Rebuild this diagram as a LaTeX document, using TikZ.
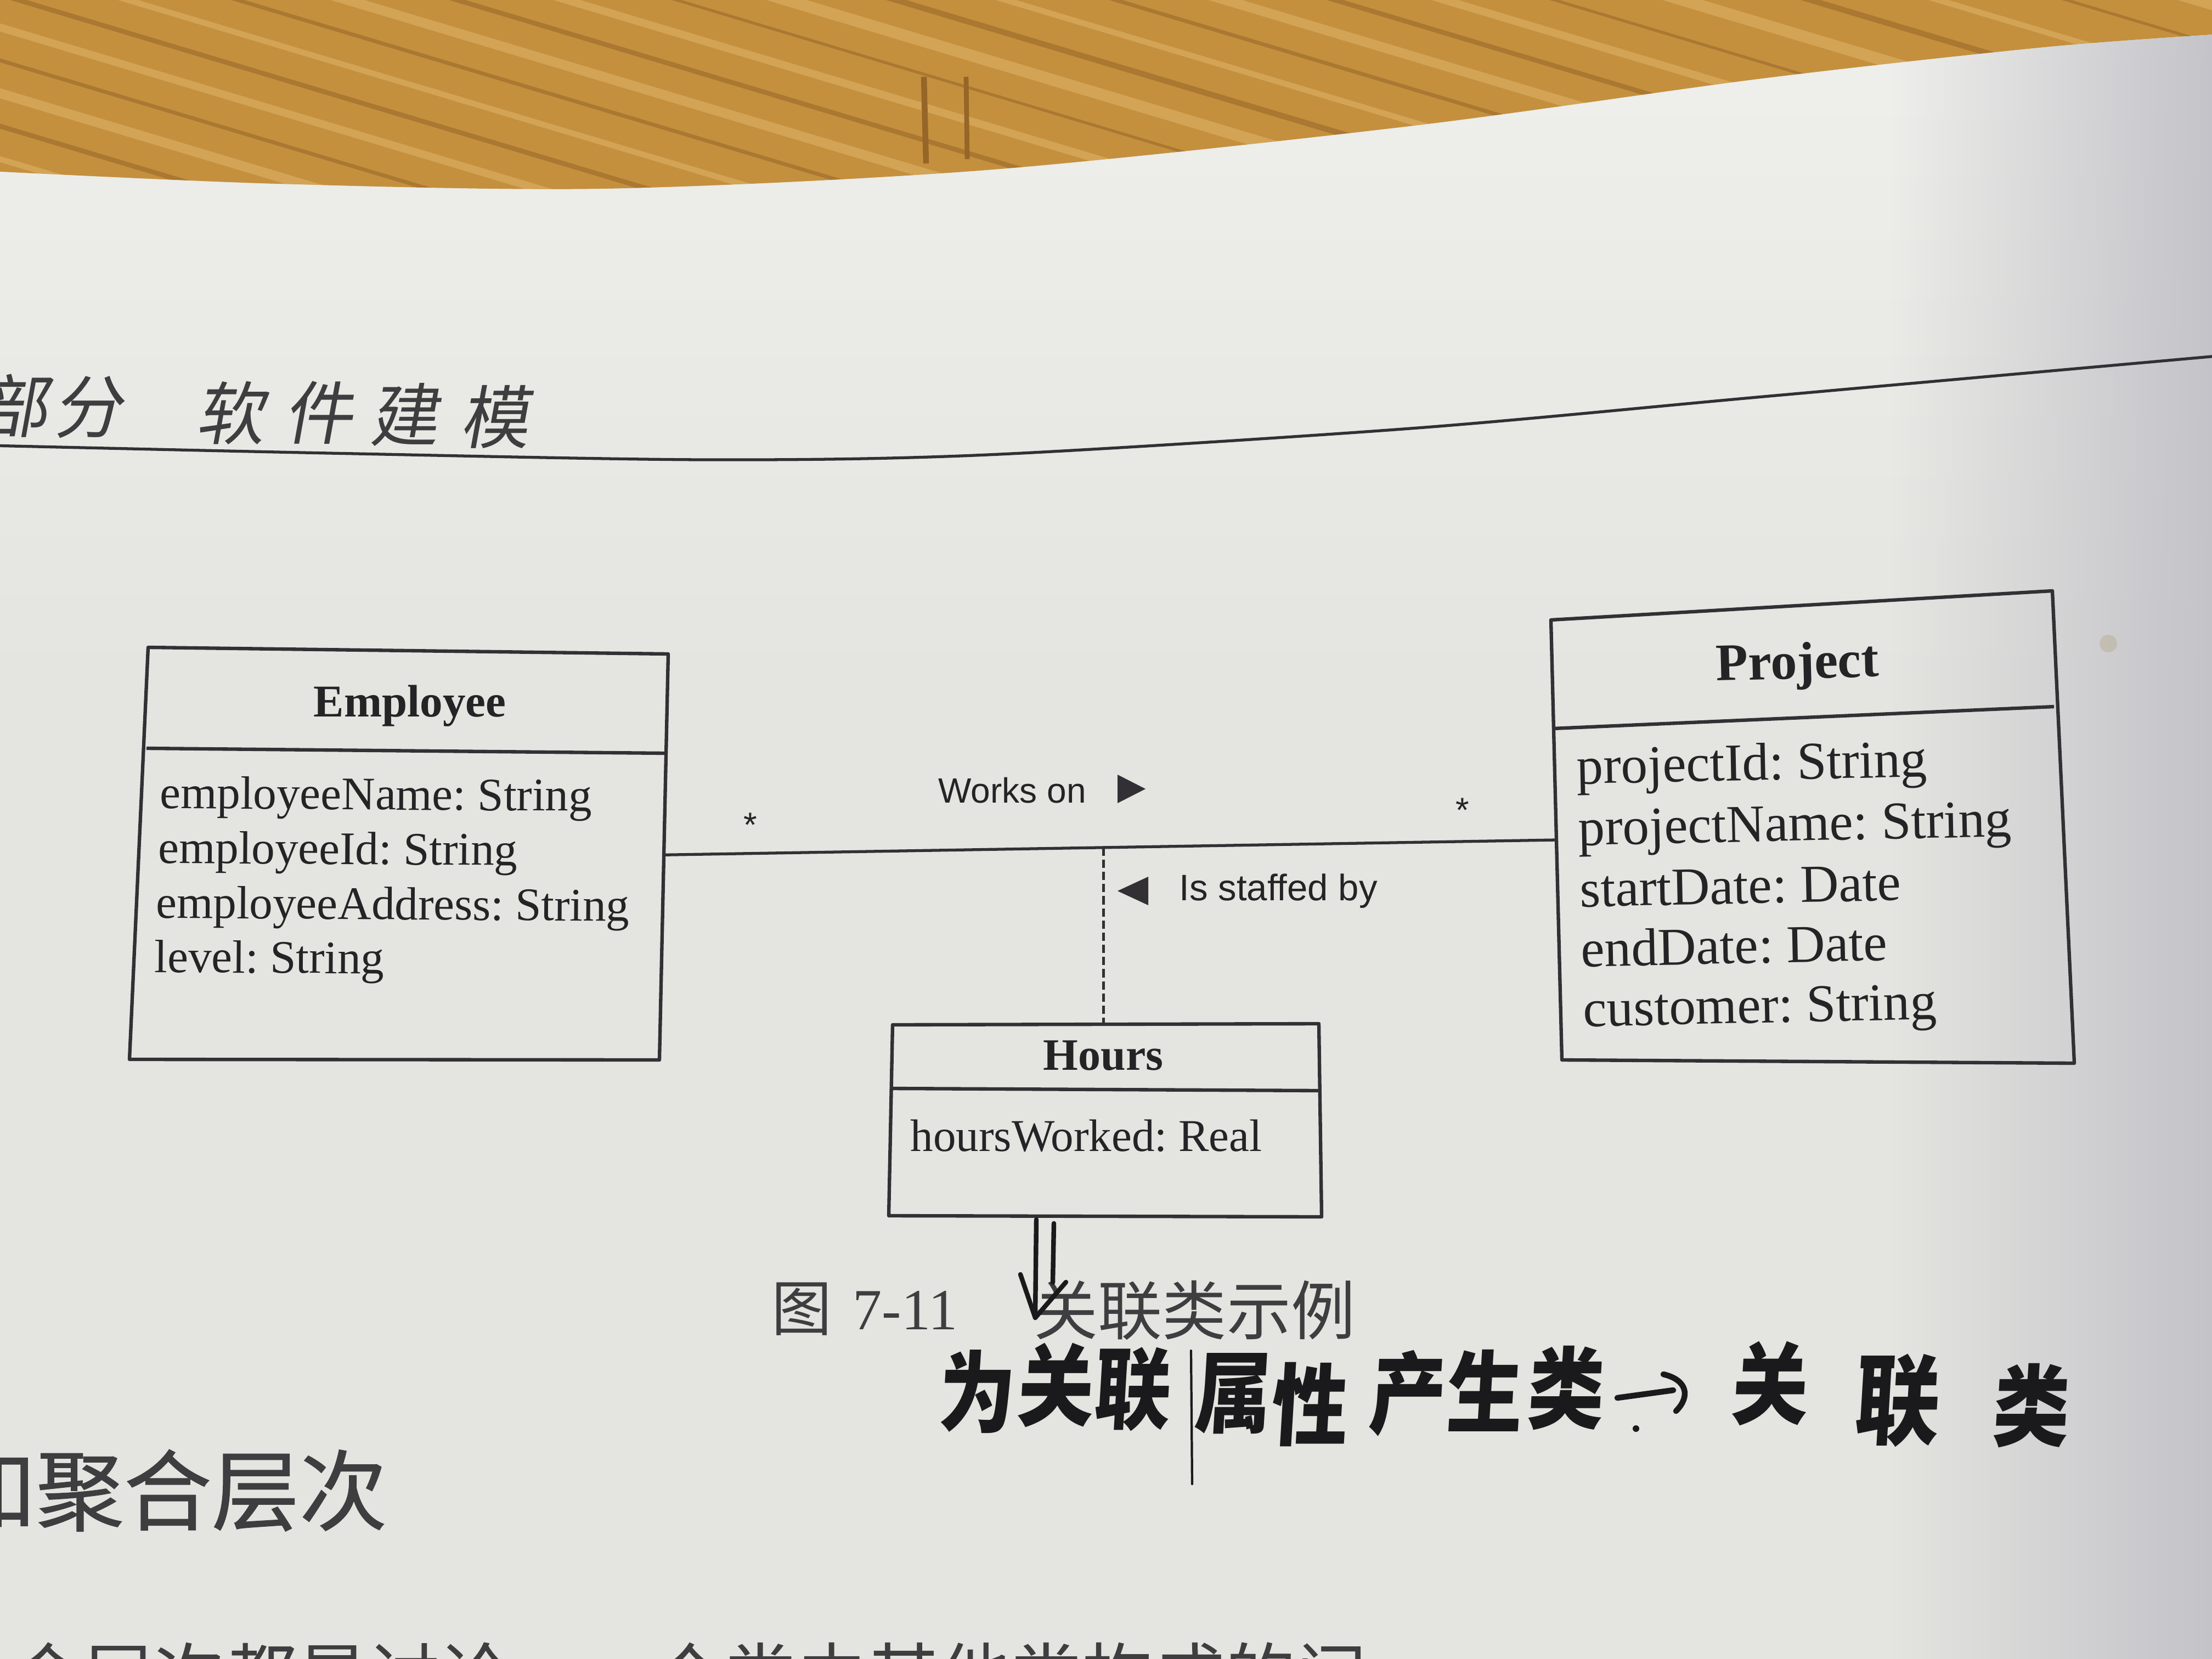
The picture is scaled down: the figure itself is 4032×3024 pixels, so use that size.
\documentclass[tikz,border=0pt]{standalone}
\usepackage{fontspec}
\setmainfont{Liberation Serif}
\newfontfamily\labelsans{Liberation Sans}
\newfontfamily\cjk{Noto Sans CJK SC}
\newfontfamily\cjkhead[FakeBold=0.8]{Noto Sans CJK SC}
\newfontfamily\kai[FakeSlant=0.18]{Noto Sans CJK SC}
\newfontfamily\hand[FakeStretch=0.86,FakeSlant=0.06]{Noto Sans CJK SC}
\usetikzlibrary{calc,fadings}
\frenchspacing

\definecolor{inkc}{RGB}{50,48,52}
\definecolor{textc}{RGB}{36,36,38}
\definecolor{handc}{RGB}{26,26,28}
\definecolor{printc}{RGB}{62,62,64}
\definecolor{paperc}{RGB}{228,228,224}
\definecolor{paperlight}{RGB}{240,240,237}
\definecolor{papershade}{RGB}{194,194,200}
\definecolor{woodc}{RGB}{196,144,62}
\definecolor{wooddark}{RGB}{150,102,40}
\definecolor{woodlight}{RGB}{224,182,106}
\definecolor{stainc}{RGB}{165,145,85}

\tikzfading[name=fadetoright, left color=transparent!100, right color=transparent!0]

\newcommand\empfont{\fontsize{24.2pt}{29pt}\selectfont}
\newcommand\projfont{\fontsize{27.6pt}{33pt}\selectfont}
\newcommand\hrsfont{\fontsize{23.6pt}{28pt}\selectfont}

\begin{document}
\begin{tikzpicture}[x=0.01cm,y=-0.01cm,
  classline/.style={draw=inkc,line width=1.8pt,line join=round},
  assocline/.style={draw=inkc,line width=1.5pt},
  dashline/.style={draw=inkc,line width=1.2pt,dash pattern=on 4.3pt off 2pt},
  attr/.style={anchor=base west,inner sep=0pt,text=textc},
  ctitle/.style={anchor=base,inner sep=0pt,text=textc},
  rolelabel/.style={anchor=base west,inner sep=0pt,text=textc},
  mult/.style={anchor=north,inner sep=0pt,text=textc,font=\labelsans\fontsize{18pt}{18pt}\selectfont},
  hw/.style={inner sep=0pt,text=handc,font=\hand\bfseries\fontsize{46pt}{46pt}\selectfont},
  pen/.style={draw=handc,line width=2.4pt,line cap=round,line join=round},
  headchar/.style={inner sep=0pt,text=printc,font=\kai\fontsize{35.6pt}{36pt}\selectfont}
]
\useasboundingbox (0,0) rectangle (4032,3024);
\clip (0,0) rectangle (4032,3024);

% ---- desk surface ----
\fill[woodc] (0,0) rectangle (4032,800);
\foreach \s/\c/\w in {-1300/wooddark/2.5,-1230/woodlight/5,-1160/wooddark/1.5,-1090/woodlight/3,
  -1020/wooddark/3,-950/woodlight/6,-880/wooddark/1.5,-820/woodlight/4,-760/wooddark/2.5,
  -700/woodlight/5,-640/wooddark/2,-580/woodlight/3,-520/wooddark/3,-460/woodlight/6,
  -400/wooddark/1.5,-340/woodlight/4,-280/wooddark/2.5,-220/woodlight/5,-160/wooddark/2,
  -100/woodlight/3,-40/wooddark/2.5,20/woodlight/4,80/wooddark/2,140/woodlight/5,
  200/wooddark/2.5,260/woodlight/3,310/wooddark/2}
  \draw[\c,line width=\w pt,opacity=0.55] (-100,\s) -- (4200,\s+1290);
\draw[wooddark,line width=3pt] (1684,140) -- (1688,298);
\draw[wooddark,line width=2.5pt] (1761,140) -- (1763,290);

% ---- page ----
\def\pageedge{plot[smooth] coordinates {(-20,312) (500,335) (1106,344) (1800,310) (2571,230) (3214,143) (3729,86) (4052,62)}}
\fill[paperc] \pageedge -- (4052,3044) -- (-20,3044) -- cycle;
\begin{scope}
  \clip \pageedge -- (4052,3044) -- (-20,3044) -- cycle;
  \fill[paperlight,path fading=south] (-20,0) rectangle (4052,1300);
  \fill[papershade,path fading=fadetoright] (3450,0) rectangle (4052,3044);
  \fill[stainc,opacity=0.25] (3843,1173) circle (16);
\end{scope}

% ---- running head ----
\node[headchar] (hd1) at (25,740) {部};
\node[headchar] (hd2) at (160,742) {分};
\node[headchar] (hd3) at (419,753) {软};
\node[headchar] (hd4) at (580,752) {件};
\node[headchar] (hd5) at (736,756) {建};
\node[headchar] (hd6) at (901,760) {模};
\draw[inkc,line width=1.5pt] plot[smooth] coordinates {(-20,812) (600,826) (1286,838) (1800,829) (2571,781) (3214,723) (4052,648)};

% ---- class Employee ----
\coordinate (eTL) at (270,1180);
\coordinate (eTR) at (1218,1192);
\coordinate (eBR) at (1202,1932);
\coordinate (eBL) at (236,1931);
\coordinate (eDL) at (267,1364);
\coordinate (eDR) at (1214,1373);
\draw[classline] (eTL) -- (eTR) -- (eBR) -- (eBL) -- cycle;
\draw[classline] (eDL) -- (eDR);
\node[ctitle,font=\bfseries\fontsize{23.6pt}{28pt}\selectfont] (empT) at (747,1306) {Employee};
\node[attr,font=\empfont,rotate=-0.4] (empA1) at (291,1473) {employeeName: String};
\node[attr,font=\empfont,rotate=-0.4] (empA2) at (288,1573) {employeeId: String};
\node[attr,font=\empfont,rotate=-0.4] (empA3) at (284,1673) {employeeAddress: String};
\node[attr,font=\empfont,rotate=-0.4] (empA4) at (281,1772) {level: String};

% ---- class Project ----
\coordinate (pTL) at (2827,1130);
\coordinate (pTR) at (3741,1077);
\coordinate (pBR) at (3781,1938);
\coordinate (pBL) at (2847,1932);
\coordinate (pDL) at (2830,1328);
\coordinate (pDR) at (3744,1288);
\draw[classline] (pTL) -- (pTR) -- (pBR) -- (pBL) -- cycle;
\draw[classline] (pDL) -- (pDR);
\node[ctitle,font=\bfseries\fontsize{27.3pt}{32pt}\selectfont,rotate=1.5] (prjT) at (3277,1237) {Project};
\node[attr,font=\projfont,rotate=1.2] (prjA1) at (2874,1429) {projectId: String};
\node[attr,font=\projfont,rotate=1.2] (prjA2) at (2877,1541) {projectName: String};
\node[attr,font=\projfont,rotate=1.2] (prjA3) at (2880,1653) {startDate: Date};
\node[attr,font=\projfont,rotate=1.2] (prjA4) at (2882,1762) {endDate: Date};
\node[attr,font=\projfont,rotate=1.2] (prjA5) at (2886,1871) {customer: String};

% ---- association class Hours ----
\coordinate (hTL) at (1627,1868);
\coordinate (hTR) at (2404,1866);
\coordinate (hBR) at (2409,2218);
\coordinate (hBL) at (1620,2216);
\coordinate (hDL) at (1625,1984);
\coordinate (hDR) at (2406,1988);
\draw[classline] (hTL) -- (hTR) -- (hBR) -- (hBL) -- cycle;
\draw[classline] (hDL) -- (hDR);
\node[ctitle,font=\bfseries\fontsize{23.3pt}{28pt}\selectfont] (hrsT) at (2011,1950) {Hours};
\node[attr,font=\hrsfont] (hrsA1) at (1659,2098) {hoursWorked: Real};

% ---- association Employee -- Project ----
\coordinate (eR) at ($(eTR)!0.495!(eBR)$);
\coordinate (pL) at ($(pTL)!0.5!(pBL)$);
\coordinate (aj) at ($(eR)!0.4926!(pL)$);
\draw[assocline] (eR) -- (pL);
\draw[dashline] (aj) -- (aj |- hTL);

\node[mult] (mE) at (1368,1481) {*};
\node[mult] (mP) at (2666,1454) {*};
\node[rolelabel,font=\labelsans\fontsize{18.2pt}{22pt}\selectfont] (worksOn) at (1710,1463) {Works on};
\fill[inkc] (2037,1412) -- (2088,1438) -- (2037,1464) -- cycle;
\node[rolelabel,font=\labelsans\fontsize{19.1pt}{23pt}\selectfont] (staffed) at (2149,1641) {Is staffed by};
\fill[inkc] (2093,1598) -- (2037,1624) -- (2093,1650) -- cycle;

% ---- figure caption ----
\node[anchor=base west,inner sep=0pt,text=printc,font=\cjk\fontsize{31.3pt}{32pt}\selectfont] (capFig) at (1406,2425) {图};
\node[anchor=base west,inner sep=0pt,text=printc,font=\fontsize{30.2pt}{32pt}\selectfont] (capNum) at (1554,2423) {7-11};
\node[anchor=base west,inner sep=0pt,text=printc,font=\cjk\fontsize{33.3pt}{34pt}\selectfont] (capTxt) at (1884,2432) {关联类示例};

% ---- pen notes ----
\draw[pen] (1889,2223) -- (1887,2398);
\draw[pen] (1921,2230) -- (1919,2338);
\draw[pen] (1860,2323) -- (1887,2402) -- (1943,2337);

\node[hw] (w1) at (1778,2537) {为};
\node[hw] (w2) at (1922,2525) {关};
\node[hw] (w3) at (2062,2532) {联};
\node[hw] (w4) at (2245,2540) {属};
\draw[handc,line width=1.2pt,line cap=round] (2171,2462) -- (2173,2705);
\node[hw] (w5) at (2385,2560) {性};
\node[hw] (w6) at (2563,2540) {产};
\node[hw] (w7) at (2704,2535) {生};
\node[hw] (w8) at (2852,2530) {类};
\draw[pen,line width=3pt] (2948,2548) -- (3050,2534);
\draw[pen,line width=3pt] (3032,2505) .. controls (3075,2515) and (3082,2545) .. (3055,2572);
\fill[handc] (2982,2604) circle (6);
\node[hw] (w9) at (3224,2522) {关};
\node[hw,font=\hand\bfseries\fontsize{51pt}{51pt}\selectfont] (w10) at (3456,2553) {联};
\node[hw] (w11) at (3700,2562) {类};

% ---- section heading and body text ----
\node[anchor=base west,inner sep=0pt,text=printc,font=\cjkhead\fontsize{45.5pt}{46pt}\selectfont] (sec) at (-95,2777) {和聚合层次};
\node[anchor=base west,inner sep=0pt,text=printc,font=\cjk\fontsize{37pt}{38pt}\selectfont] (body) at (20,3103) {合层次都是讨论，一个类由其他类构成的问};
\end{tikzpicture}
\end{document}
